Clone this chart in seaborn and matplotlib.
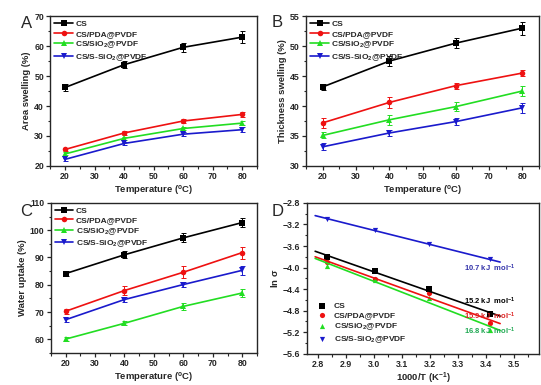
import numpy as np
import matplotlib
matplotlib.use("Agg")
import matplotlib.pyplot as plt
import seaborn as sns
from matplotlib.ticker import MultipleLocator, AutoMinorLocator

# --- DATA ---
temps = [20, 40, 60, 80]
names = ["CS", "CS/PDA@PVDF", "CS/SiO$_2$@PVDF", "CS/S-SiO$_2$@PVDF"]

area = [[46.2, 53.8, 59.6, 63.0],
        [25.5, 31.0, 35.0, 37.2],
        [24.0, 29.2, 32.5, 34.3],
        [22.2, 27.5, 30.6, 32.1]]
area_err = [[1.2, 1.2, 1.6, 1.9],
            [0.5, 0.8, 0.7, 0.9],
            [0.5, 0.6, 0.6, 0.7],
            [0.5, 0.6, 0.6, 0.8]]

thick = [[43.2, 47.5, 50.5, 53.0],
         [37.2, 40.6, 43.4, 45.5],
         [35.1, 37.7, 39.9, 42.5],
         [33.2, 35.5, 37.4, 39.7]]
thick_err = [[0.5, 0.8, 0.8, 1.1],
             [0.8, 0.9, 0.5, 0.5],
             [0.5, 0.8, 0.8, 0.8],
             [0.6, 0.5, 0.6, 0.8]]

water = [[84.1, 91.0, 97.2, 102.8],
         [70.3, 77.9, 84.6, 91.8],
         [60.1, 65.9, 72.1, 77.0],
         [67.2, 74.6, 80.1, 85.3]]
water_err = [[1.0, 1.3, 1.7, 1.5],
             [1.0, 1.5, 2.2, 2.2],
             [0.8, 0.8, 1.3, 1.3],
             [0.8, 1.0, 1.0, 1.6]]

inv_t = [2.833, 3.003, 3.195, 3.413]
ln_sigma = [[-3.80, -4.07, -4.40, -4.86],
            [-3.90, -4.22, -4.47, -5.02],
            [-3.97, -4.23, -4.57, -5.15],
            [-3.10, -3.30, -3.57, -3.85]]
ea_labels = ["15.2 kJ  mol$^{-1}$", "15.9 kJ  mol$^{-1}$",
             "16.8 kJ  mol$^{-1}$", "10.7 kJ  mol$^{-1}$"]
fit_range = [2.79, 3.45]

# --- STYLE ---
colors = ["#000000", "#ee1111", "#22dd22", "#1a1acc"]
text_colors = ["#000000", "#dd2222", "#22aa55", "#3333aa"]
markers = ["s", "o", "^", "v"]

sns.set_style("ticks")
plt.rcParams["font.family"] = ["Liberation Sans", "DejaVu Sans"]
plt.rcParams["font.weight"] = "bold"
plt.rcParams["mathtext.fontset"] = "custom"
plt.rcParams["mathtext.rm"] = "Liberation Sans:bold"
plt.rcParams["mathtext.bf"] = "Liberation Sans:bold"
plt.rcParams["mathtext.it"] = "Liberation Sans:bold"
plt.rcParams["mathtext.default"] = "rm"

fig = plt.figure(figsize=(5.41, 3.85), dpi=100)
axA = fig.add_axes([0.093, 0.569, 0.382, 0.389])
axB = fig.add_axes([0.566, 0.569, 0.430, 0.389])
axC = fig.add_axes([0.094, 0.083, 0.381, 0.390])
axD = fig.add_axes([0.567, 0.081, 0.430, 0.392])


def style_axes(ax, xlim, ylim, xmaj, ymaj, xlabel, ylabel):
    ax.set_xlim(*xlim)
    ax.set_ylim(*ylim)
    ax.xaxis.set_major_locator(MultipleLocator(xmaj))
    ax.yaxis.set_major_locator(MultipleLocator(ymaj))
    ax.xaxis.set_minor_locator(AutoMinorLocator(2))
    ax.yaxis.set_minor_locator(AutoMinorLocator(2))
    ax.tick_params(which="major", length=3, width=0.9, labelsize=6.3, pad=1.5)
    ax.tick_params(which="minor", length=1.8, width=0.8)
    for s in ax.spines.values():
        s.set_linewidth(1.0)
        s.set_visible(True)
    ax.set_xlabel(xlabel, fontsize=6.8, fontweight="bold", labelpad=1)
    ax.set_ylabel(ylabel, fontsize=6.8, fontweight="bold", labelpad=2)


def swelling_panel(ax, data, errs, ylim, ymaj, ylabel):
    for i in range(4):
        sns.lineplot(x=temps, y=data[i], color=colors[i], marker=markers[i],
                     markersize=4, markeredgewidth=0, linewidth=1.2,
                     label=names[i], ax=ax)
        ax.errorbar(temps, data[i], yerr=errs[i], fmt="none", ecolor=colors[i],
                    elinewidth=0.7, capsize=1.8, capthick=0.7)
    style_axes(ax, (15, 85), ylim, 10, ymaj, "Temperature ($^{\\rm o}$C)", ylabel)
    ax.legend(loc="upper left", frameon=False, fontsize=6.0, handlelength=2.2,
              borderaxespad=0.2, borderpad=0.3, labelspacing=0.2, handletextpad=0.3)


swelling_panel(axA, area, area_err, (20, 70), 10, "Area swelling (%)")
swelling_panel(axB, thick, thick_err, (30, 55), 5, "Thickness swelling (%)")
swelling_panel(axC, water, water_err, (55, 110), 10, "Water uptake (%)")

# Panel D: Arrhenius plot with linear fits
for i in range(4):
    sns.scatterplot(x=inv_t, y=ln_sigma[i], color=colors[i], marker=markers[i],
                    s=14, linewidth=0, label=names[i], ax=axD)
    k, b = np.polyfit(inv_t, ln_sigma[i], 1)
    xs = np.array(fit_range)
    axD.plot(xs, k * xs + b, color=colors[i], linewidth=1.2)
style_axes(axD, (2.76, 3.59), (-5.6, -2.8), 0.1, 0.4, "1000/T (K$^{-1}$)", "ln $\\sigma$")
axD.legend(loc="lower left", frameon=False, fontsize=6.0, handletextpad=0.4,
           borderaxespad=0.0, borderpad=0.3, labelspacing=0.25,
           bbox_to_anchor=(0.02, 0.04))

ea_pos = [(3.32, -4.63), (3.32, -4.91), (3.32, -5.19), (3.32, -4.02)]
for lab, (x, y), c in zip(ea_labels, ea_pos, text_colors):
    axD.text(x, y, lab, color=c, fontsize=5.5, fontweight="bold", va="center")

for lab, x, y in [("A", 0.038, 0.927), ("B", 0.502, 0.93), ("C", 0.038, 0.439), ("D", 0.502, 0.44)]:
    fig.text(x, y, lab, fontsize=12, fontweight="normal")

fig.savefig("out.png", dpi=100)
